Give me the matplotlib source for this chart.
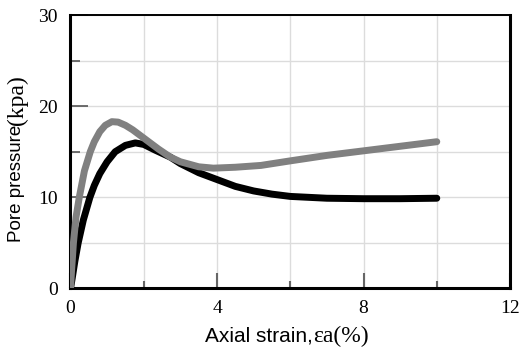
import matplotlib
matplotlib.use("Agg")
import matplotlib.pyplot as plt
from matplotlib.ticker import MultipleLocator

# --- data ---
strain_gray = [0, 0.03, 0.08, 0.15, 0.24, 0.38, 0.54, 0.65, 0.8, 0.95, 1.13, 1.3, 1.5,
               1.7, 2.0, 2.4, 2.73, 3.0, 3.5, 3.9, 4.5, 5.2, 6.0, 7.0, 8.0, 9.0, 10.0]
pore_gray = [0, 2.0, 5.0, 7.8, 10.0, 12.9, 15.0, 16.1, 17.2, 17.9, 18.3, 18.25, 17.9,
             17.4, 16.5, 15.3, 14.4, 13.9, 13.35, 13.2, 13.3, 13.5, 14.0, 14.6, 15.1, 15.6, 16.1]

strain_black = [0, 0.05, 0.12, 0.21, 0.35, 0.53, 0.65, 0.8, 1.0, 1.22, 1.5, 1.77, 2.0,
                2.3, 2.73, 3.0, 3.5, 4.0, 4.5, 5.0, 5.5, 6.0, 7.0, 8.0, 9.0, 10.0]
pore_black = [0, 1.2, 3.0, 5.0, 7.5, 10.0, 11.3, 12.6, 13.9, 15.0, 15.7, 15.97, 15.8,
              15.2, 14.4, 13.7, 12.7, 11.95, 11.2, 10.7, 10.35, 10.1, 9.9, 9.85, 9.85, 9.9]

x_ticks = [0, 4, 8, 12]
y_ticks = [0, 10, 20, 30]

SERIF = "Liberation Serif"
SANS = "Liberation Sans"

fig = plt.figure(figsize=(5.21, 3.49), dpi=100)
ax = fig.add_axes([0.1353, 0.1734, 0.979 - 0.1353, 0.957 - 0.1734])

ax.plot(strain_black, pore_black, color="black", lw=5, solid_capstyle="round", zorder=3)
ax.plot(strain_gray, pore_gray, color="#808080", lw=5, solid_capstyle="round", zorder=4)

ax.set_xlim(0, 12)
ax.set_ylim(0, 30)
ax.set_xticks(x_ticks)
ax.set_yticks(y_ticks)
ax.xaxis.set_minor_locator(MultipleLocator(2))
ax.yaxis.set_minor_locator(MultipleLocator(5))
ax.grid(True, which="both", color="#dcdcdc", lw=1, zorder=0)

ax.tick_params(axis="x", which="major", direction="in", length=11, width=1.5,
               color="#666666", pad=8)
ax.tick_params(axis="x", which="minor", direction="in", length=5, width=1.5,
               color="#666666")
ax.tick_params(axis="y", which="major", direction="in", length=13, width=1.2,
               color="#555555", pad=9)
ax.tick_params(axis="y", which="minor", direction="in", length=7, width=1.2,
               color="#555555")
for lab in ax.get_xticklabels() + ax.get_yticklabels():
    lab.set_fontfamily(SERIF)
    lab.set_fontsize(14)

for side in ["left", "bottom", "right"]:
    ax.spines[side].set_linewidth(2.2)
ax.spines["top"].set_linewidth(1.4)

# axis labels: sans part + serif part, as in the reference
fig.text(313 / 521, 1 - 342 / 349, "Axial strain,", family=SANS, fontsize=15,
         ha="right", va="baseline")
fig.text(313 / 521, 1 - 342 / 349, "\u03b5a(%)", family=SERIF, fontsize=17,
         ha="left", va="baseline")
fig.text(17 / 521, 1 - 125 / 349, "Pore pressure", family=SANS, fontsize=13.5,
         rotation=90, ha="center", va="top")
fig.text(17.5 / 521, 1 - 125 / 349, "(kpa)", family=SERIF, fontsize=17,
         rotation=90, ha="center", va="bottom")

fig.savefig("out.png", dpi=100)
